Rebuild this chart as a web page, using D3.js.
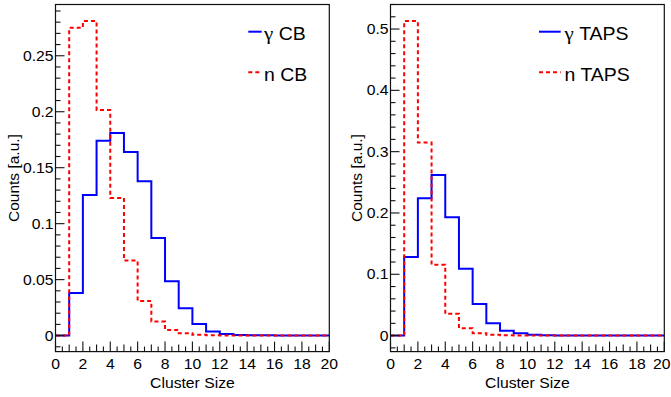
<!DOCTYPE html>
<html>
<head>
<meta charset="utf-8">
<script src="https://cdn.jsdelivr.net/npm/d3@7"></script>
<style>
  html, body { margin: 0; padding: 0; background: #fff; }
  svg { display: block; }
  text { font-family: "Liberation Sans", Arial, Helvetica, sans-serif; fill: #000; }
  .greek { font-family: "Liberation Serif", "Times New Roman", serif; }
</style>
</head>
<body>
<svg id="chart" width="671" height="397"></svg>
<script>
// Cluster-size distributions (20 unit-wide bins from 0 to 20), normalised counts
const binEdges = d3.range(0, 21);
const cbGamma   = [0, 0.038, 0.1256, 0.174, 0.181, 0.164, 0.138, 0.0872, 0.0486, 0.0244, 0.0103, 0.0036, 0.0014, 0.0006, 0.0003, 0.0002, 0.0001, 0.0001, 0, 0];
const cbNeutron = [0, 0.275, 0.281, 0.2015, 0.123, 0.067, 0.031, 0.0125, 0.0051, 0.0021, 0.0007, 0.0003, 0.0001, 0.0001, 0, 0, 0, 0, 0, 0];
const tapsGamma   = [0, 0.128, 0.224, 0.262, 0.193, 0.109, 0.0515, 0.0203, 0.0081, 0.0038, 0.0015, 0.0006, 0.0003, 0.0001, 0, 0, 0, 0, 0, 0];
const tapsNeutron = [0, 0.513, 0.315, 0.1157, 0.0356, 0.012, 0.0039, 0.0015, 0.0006, 0.0002, 0.0001, 0, 0, 0, 0, 0, 0, 0, 0, 0];

const xTickLabels = [0, 2, 4, 6, 8, 10, 12, 14, 16, 18, 20];
const cbYTickLabels = [0, 0.05, 0.1, 0.15, 0.2, 0.25];
const tapsYTickLabels = [0, 0.1, 0.2, 0.3, 0.4, 0.5];

// legend entries: [particle symbol, detector label]
const legendCB = [["\u03b3", "CB"], ["n", "CB"]];
const legendTAPS = [["\u03b3", "TAPS"], ["n", "TAPS"]];
const xTitle = "Cluster Size";
const yTitle = "Counts [a.u.]";

const svg = d3.select("#chart");
const SX = 1.1; // horizontal glyph stretch of the labels
const W = +svg.attr("width");

function hText(g, x, y, str, size, anchor) {
  return g.append("text")
    .attr("transform", `translate(${x},${y}) scale(${SX},1)`)
    .attr("text-anchor", anchor)
    .style("font-size", size + "px")
    .text(str);
}

function panel(opts) {
  const g = svg.append("g");
  const x = d3.scaleLinear().domain([0, 20]).range([opts.left, opts.right]);
  const y = d3.scaleLinear().domain(opts.yDomain).range([opts.bottom, opts.top]);

  // histogram outlines
  const step = d3.line().x(d => x(d[0])).y(d => y(d[1])).curve(d3.curveStepAfter);
  opts.series.forEach(s => {
    const pts = s.values.map((v, i) => [binEdges[i], v]);
    pts.push([binEdges[binEdges.length - 1], s.values[s.values.length - 1]]);
    g.append("path")
      .attr("d", step(pts))
      .attr("fill", "none")
      .attr("stroke", s.color)
      .attr("stroke-width", 2)
      .attr("stroke-dasharray", s.dash || null);
  });

  // frame
  g.append("rect")
    .attr("x", opts.left).attr("y", opts.top)
    .attr("width", opts.right - opts.left).attr("height", opts.bottom - opts.top)
    .attr("fill", "none").attr("stroke", "#111").attr("stroke-width", 1.2);

  // x ticks (pointing inward from the bottom edge)
  const xMinor = d3.range(0, 20.001, 0.5);
  g.selectAll(".xt").data(xMinor).enter().append("line")
    .attr("x1", d => x(d)).attr("x2", d => x(d))
    .attr("y1", opts.bottom)
    .attr("y2", d => opts.bottom - (Math.abs(d % 2) < 1e-6 ? 10 : (Math.abs(d % 1) < 1e-6 ? 7 : 5)))
    .attr("stroke", "#111").attr("stroke-width", 1.1);
  xTickLabels.forEach(t => {
    const t0 = hText(g, x(t), 369.3, String(t), 14.3, "middle");
    // keep the last label inside the canvas
    const half = t0.node().getBBox().width * SX / 2;
    if (x(t) + half > W - 0.5) {
      t0.attr("text-anchor", "end").attr("transform", `translate(${W - 0.5},369.3) scale(${SX},1)`);
    }
  });
  hText(g, (opts.left + opts.right) / 2, 388.3, xTitle, 14.3, "middle");

  // y ticks (pointing inward from the left edge)
  const [y0, y1] = opts.yDomain;
  const yMinor = d3.range(Math.ceil(y0 / opts.minorStep - 1e-6), Math.floor(y1 / opts.minorStep + 1e-6) + 1)
    .map(k => +(k * opts.minorStep).toFixed(6));
  g.selectAll(".yt").data(yMinor).enter().append("line")
    .attr("x1", opts.left)
    .attr("x2", d => {
      const r = d / opts.majorStep;
      return opts.left + (Math.abs(r - Math.round(r)) < 1e-6 ? 9 : 5);
    })
    .attr("y1", d => y(d)).attr("y2", d => y(d))
    .attr("stroke", "#111").attr("stroke-width", 1.1);
  opts.yTicks.forEach(t => {
    hText(g, opts.left - 2, y(t) + 5, String(t), 14.3, "end");
  });

  // y title
  g.append("text")
    .attr("transform", `translate(${opts.yTitleX},${(opts.top + opts.bottom) / 2}) rotate(-90)`)
    .attr("text-anchor", "middle")
    .style("font-size", "15.5px")
    .text(yTitle);

  // legend
  opts.series.forEach((s, i) => {
    const ly = 31.7 + i * 40.6;
    g.append("line")
      .attr("x1", opts.legX1).attr("x2", opts.legX2)
      .attr("y1", ly).attr("y2", ly)
      .attr("stroke", s.color).attr("stroke-width", 2)
      .attr("stroke-dasharray", s.dash || null);
    const t = hText(g, opts.legText, ly + 8.5, "", 17.7, "start");
    const [sym, det] = opts.legend[i];
    t.append("tspan").attr("class", sym === "\u03b3" ? "greek" : null)
      .style("font-size", sym === "\u03b3" ? "19px" : null).text(sym);
    t.append("tspan").text(" " + det);
  });
}

panel({
  left: 55.5, right: 329.3, top: 4.5, bottom: 351.6,
  yDomain: [-0.0143, 0.2958],
  minorStep: 0.01, majorStep: 0.05,
  yTicks: cbYTickLabels,
  yTitleX: 18.5,
  series: [
    { values: cbGamma, color: "#0000ff" },
    { values: cbNeutron, color: "#ff0000", dash: "4,3" }
  ],
  legend: legendCB,
  legX1: 248.3, legX2: 261.7, legText: 264
});

panel({
  left: 390.5, right: 664.3, top: 4.5, bottom: 351.6,
  yDomain: [-0.0261, 0.5400],
  minorStep: 0.02, majorStep: 0.1,
  yTicks: tapsYTickLabels,
  yTitleX: 362,
  series: [
    { values: tapsGamma, color: "#0000ff" },
    { values: tapsNeutron, color: "#ff0000", dash: "4,3" }
  ],
  legend: legendTAPS,
  legX1: 539, legX2: 560.7, legText: 564.5
});
</script>
</body>
</html>
